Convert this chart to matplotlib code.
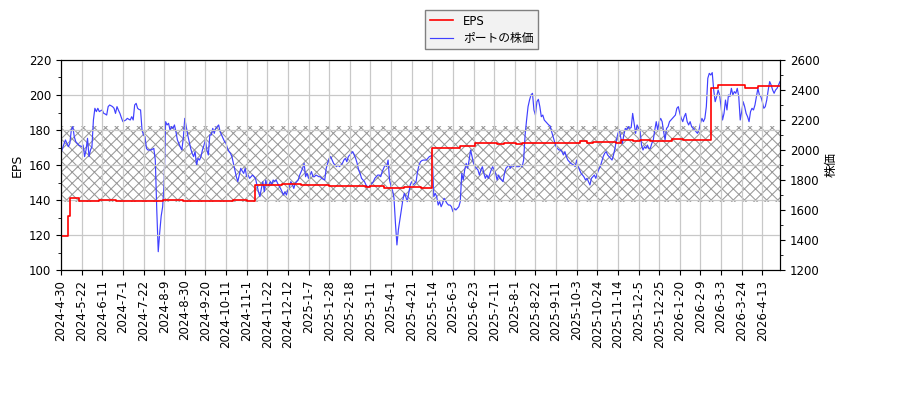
import numpy as np
import matplotlib
matplotlib.use("Agg")
import matplotlib.pyplot as plt
from matplotlib.ticker import MultipleLocator

plt.rcParams['font.family'] = ['DejaVu Sans', 'Noto Sans CJK JP']
plt.rcParams['font.size'] = 8.5
plt.rcParams['hatch.color'] = '#999999'
plt.rcParams['hatch.linewidth'] = 0.75

# daily stock price (trading-day index 0..488)
price = [
    1978, 2011, 2040, 2067, 2044, 2022, 2044, 2133, 2156, 2089,
    2056, 2044, 2033, 2028, 2022, 2033, 1956, 2000, 2078, 1956,
    2000, 2022, 2200, 2278, 2256, 2278, 2256, 2262, 2267, 2244,
    2240, 2233, 2289, 2300, 2295, 2289, 2278, 2244, 2289, 2265,
    2244, 2215, 2189, 2195, 2200, 2211, 2205, 2200, 2222, 2200,
    2300, 2311, 2278, 2270, 2267, 2133, 2100, 2089, 2011, 2000,
    2000, 2000, 2005, 2011, 1933, 1600, 1322, 1450, 1560, 1622,
    1780, 2189, 2167, 2178, 2133, 2156, 2144, 2167, 2122, 2067,
    2044, 2020, 2000, 2078, 2211, 2156, 2100, 2056, 2011, 1978,
    1956, 1989, 1900, 1944, 1933, 1956, 2000, 2030, 2067, 2000,
    1967, 2100, 2100, 2144, 2111, 2144, 2156, 2167, 2122, 2100,
    2078, 2056, 2044, 2011, 1990, 1978, 1956, 1911, 1867, 1822,
    1789, 1833, 1878, 1860, 1844, 1878, 1822, 1833, 1811, 1822,
    1833, 1822, 1811, 1767, 1722, 1689, 1744, 1789, 1722, 1800,
    1756, 1767, 1789, 1767, 1800, 1789, 1800, 1778, 1760, 1744,
    1722, 1700, 1722, 1700, 1733, 1756, 1789, 1770, 1744, 1778,
    1789, 1800, 1833, 1856, 1878, 1911, 1822, 1844, 1811, 1833,
    1856, 1822, 1822, 1833, 1828, 1822, 1822, 1811, 1805, 1800,
    1878, 1911, 1944, 1956, 1933, 1911, 1900, 1889, 1900, 1889,
    1900, 1911, 1933, 1944, 1922, 1956, 1967, 1978, 1989, 1967,
    1944, 1911, 1867, 1844, 1811, 1800, 1789, 1767, 1756, 1756,
    1767, 1778, 1789, 1811, 1822, 1833, 1833, 1822, 1856, 1878,
    1900, 1889, 1933, 1800, 1760, 1730, 1680, 1511, 1367, 1470,
    1533, 1600, 1667, 1711, 1689, 1656, 1711, 1767, 1789, 1767,
    1778, 1789, 1856, 1900, 1922, 1930, 1933, 1933, 1933, 1944,
    1956, 1960, 1967, 1689, 1711, 1689, 1633, 1656, 1622, 1644,
    1678, 1660, 1644, 1633, 1633, 1622, 1589, 1611, 1600, 1611,
    1622, 1656, 1844, 1800, 1867, 1911, 1878, 1933, 2000, 1956,
    1911, 1889, 1878, 1867, 1833, 1867, 1889, 1844, 1811, 1833,
    1811, 1840, 1867, 1889, 1867, 1844, 1800, 1833, 1811, 1800,
    1789, 1844, 1878, 1889, 1900, 1878, 1900, 1889, 1900, 1889,
    1889, 1889, 1900, 1889, 1933, 2100, 2200, 2289, 2333, 2367,
    2378, 2267, 2233, 2322, 2338, 2289, 2222, 2233, 2200, 2189,
    2178, 2167, 2160, 2122, 2089, 2056, 2022, 2010, 2000, 2000,
    1989, 1967, 1989, 1956, 1933, 1922, 1911, 1905, 1900, 1889,
    1933, 1889, 1867, 1844, 1833, 1820, 1800, 1811, 1789, 1767,
    1811, 1822, 1833, 1811, 1844, 1870, 1889, 1922, 1956, 1978,
    1989, 1967, 1956, 1945, 1933, 1967, 2011, 2067, 2111, 2133,
    2078, 2044, 2100, 2144, 2133, 2156, 2144, 2150, 2244, 2178,
    2111, 2167, 2144, 2133, 2033, 2000, 2022, 2011, 2033, 2011,
    2011, 2044, 2067, 2133, 2189, 2133, 2189, 2211, 2189, 2122,
    2067, 2144, 2156, 2189, 2200, 2211, 2222, 2233, 2278, 2289,
    2244, 2211, 2189, 2222, 2244, 2189, 2167, 2189, 2156, 2145,
    2133, 2122, 2111, 2133, 2178, 2211, 2189, 2211, 2289, 2478,
    2511, 2500, 2516, 2400, 2322, 2356, 2400, 2367, 2289, 2200,
    2244, 2333, 2267, 2367, 2356, 2411, 2367, 2389, 2378, 2411,
    2356, 2200, 2256, 2322, 2289, 2244, 2222, 2189, 2256, 2278,
    2267, 2300, 2356, 2411, 2367, 2356, 2322, 2278, 2289, 2333,
    2400, 2456, 2433, 2400, 2378, 2400, 2411, 2433, 2456,
]

# EPS: trading-day index where a new value starts, and the value
eps_day = [0, 5, 6, 12, 26, 37, 69, 83, 117, 126,
           132, 150, 163, 182, 207, 210, 219, 233, 244, 252,
           257, 271, 281, 285, 296, 301, 309, 313, 336, 352,
           357, 361, 377, 380, 388, 393, 400, 415, 422, 425,
           441, 446, 464, 473]
eps_val = [119.5, 131, 141.2, 139.3, 139.8, 139.4, 139.9, 139.4, 140.0, 139.4,
           148.6, 149.1, 148.5, 148.2, 147.3, 148.2, 147.0, 147.6, 146.8, 169.5,
           169.7, 170.9, 172.4, 172.8, 171.9, 172.8, 171.9, 172.8, 172.4, 173.7,
           172.4, 173.3, 172.8, 174.3, 173.6, 174.2, 173.9, 174.9, 174.3, 174.5,
           204.2, 205.5, 203.8, 205.1]

# shaded price band
band_lo, band_hi = 1655, 2160

tick_labels = ['2024-4-30', '2024-5-22', '2024-6-11', '2024-7-1', '2024-7-22',
               '2024-8-9', '2024-8-30', '2024-9-20', '2024-10-11', '2024-11-1',
               '2024-11-22', '2024-12-12', '2025-1-7', '2025-1-28', '2025-2-18',
               '2025-3-11', '2025-4-1', '2025-4-21', '2025-5-14', '2025-6-3',
               '2025-6-23', '2025-7-11', '2025-8-1', '2025-8-22', '2025-9-11',
               '2025-10-3', '2025-10-24', '2025-11-14', '2025-12-5', '2025-12-25',
               '2026-1-20', '2026-2-9', '2026-3-3', '2026-3-24', '2026-4-13']
tick_step = 14

x = np.arange(len(price))
last = len(price) - 1

fig = plt.figure(figsize=(9, 4), dpi=100)
ax1 = fig.add_axes([61 / 900, 130 / 400, 719 / 900, 210 / 400])
ax2 = ax1.twinx()
ax1.set_zorder(ax2.get_zorder() + 1)
ax1.patch.set_visible(False)

ax2.axhspan(band_lo, band_hi, facecolor='none', edgecolor='#999999',
            hatch='xxx', linewidth=0, zorder=0)
l2, = ax2.plot(x, price, color='#4040ff', lw=0.85, label='ポートの株価')

l1, = ax1.step(eps_day + [last], eps_val + [eps_val[-1]], where='post',
               color='red', lw=1.2, label='EPS')

ax1.set_xlim(0, last)
ax1.set_ylim(100, 220)
ax2.set_ylim(1200, 2600)
ax1.yaxis.set_minor_locator(MultipleLocator(10))
ax2.yaxis.set_minor_locator(MultipleLocator(100))

ax1.set_xticks(np.arange(len(tick_labels)) * tick_step)
ax1.set_xticklabels(tick_labels, rotation=90)
ax1.grid(True, color='#c8c8c8', lw=0.9)
ax1.set_axisbelow(True)

ax1.set_ylabel('EPS', fontsize=9)
ax2.set_ylabel('株価', fontsize=9)

leg = fig.legend(handles=[l1, l2], loc='upper center',
                 bbox_to_anchor=(481.5 / 900, 1 - 4 / 400),
                 fancybox=False, edgecolor='#808080', facecolor='#f2f2f2',
                 framealpha=1, labelspacing=0.35)

fig.savefig('out.png', dpi=100)
